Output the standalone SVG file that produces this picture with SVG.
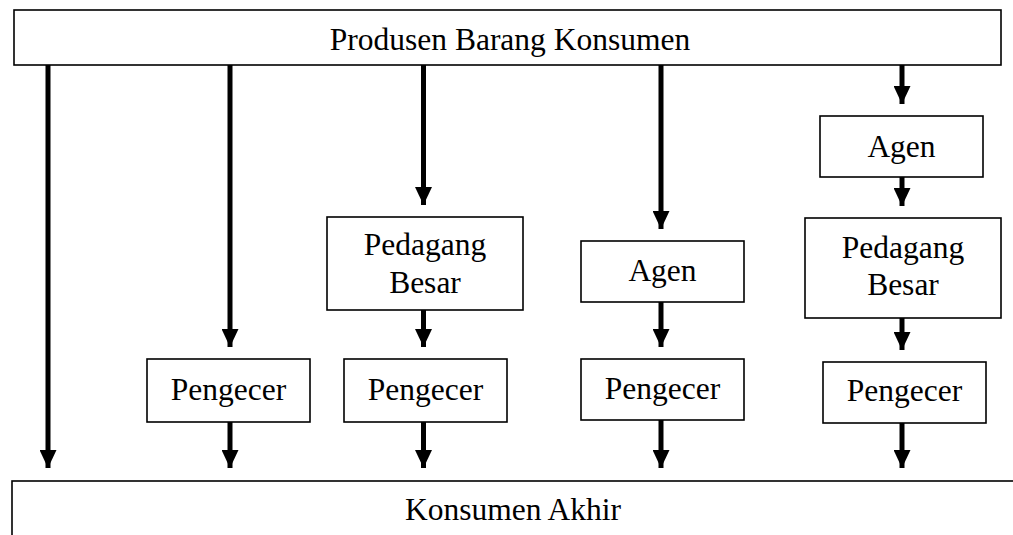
<svg xmlns="http://www.w3.org/2000/svg" width="1013" height="535" viewBox="0 0 1013 535">
<defs>
<style>
.box{fill:#fff;stroke:#000;stroke-width:1.6}
.t{font-family:"Liberation Serif","Times New Roman",serif;font-size:31.5px;fill:#000;text-anchor:middle}
.c{stroke:#000;stroke-width:5;fill:none}
</style>
<marker id="ah" markerUnits="userSpaceOnUse" markerWidth="18" markerHeight="17" refX="18" refY="8.5" orient="auto">
<path d="M0,0 L18,8.5 L0,17 z" fill="#000"/>
</marker>
</defs>
<rect width="1013" height="535" fill="#fff"/>
<g id="produsen"><rect class="box" x="14" y="10" width="987" height="55"/><text class="t" x="510" y="50">Produsen Barang Konsumen</text></g>
<g id="konsumen"><rect class="box" x="12" y="481" width="1010" height="70"/><text class="t" x="513" y="520">Konsumen Akhir</text></g>
<g id="pengecer1"><rect class="box" x="147" y="359" width="163" height="63"/><text class="t" x="228.5" y="400">Pengecer</text></g>
<g id="pedagang3"><rect class="box" x="327" y="217" width="196" height="93"/><text class="t" x="425" y="255">Pedagang</text><text class="t" x="425" y="293">Besar</text></g>
<g id="pengecer3"><rect class="box" x="344" y="359" width="163" height="63"/><text class="t" x="425.5" y="400">Pengecer</text></g>
<g id="agen4"><rect class="box" x="581" y="241" width="163" height="61"/><text class="t" x="662.5" y="281">Agen</text></g>
<g id="pengecer4"><rect class="box" x="581" y="359" width="163" height="61"/><text class="t" x="662.5" y="399">Pengecer</text></g>
<g id="agen5"><rect class="box" x="820" y="116" width="163" height="61"/><text class="t" x="901.5" y="157">Agen</text></g>
<g id="pedagang5"><rect class="box" x="805" y="218" width="196" height="100"/><text class="t" x="903" y="258">Pedagang</text><text class="t" x="903" y="295">Besar</text></g>
<g id="pengecer5"><rect class="box" x="823" y="362" width="163" height="61"/><text class="t" x="904.5" y="401">Pengecer</text></g>
<g id="connectors">
<line class="c" x1="48" y1="65" x2="48" y2="468" marker-end="url(#ah)"/>
<line class="c" x1="230" y1="65" x2="230" y2="347" marker-end="url(#ah)"/>
<line class="c" x1="230" y1="422" x2="230" y2="468" marker-end="url(#ah)"/>
<line class="c" x1="423.5" y1="65" x2="423.5" y2="205" marker-end="url(#ah)"/>
<line class="c" x1="423.5" y1="310" x2="423.5" y2="347" marker-end="url(#ah)"/>
<line class="c" x1="423.5" y1="422" x2="423.5" y2="468" marker-end="url(#ah)"/>
<line class="c" x1="661" y1="65" x2="661" y2="229" marker-end="url(#ah)"/>
<line class="c" x1="661" y1="302" x2="661" y2="347" marker-end="url(#ah)"/>
<line class="c" x1="661" y1="420" x2="661" y2="468" marker-end="url(#ah)"/>
<line class="c" x1="902" y1="65" x2="902" y2="104" marker-end="url(#ah)"/>
<line class="c" x1="902" y1="177" x2="902" y2="206" marker-end="url(#ah)"/>
<line class="c" x1="902" y1="318" x2="902" y2="350" marker-end="url(#ah)"/>
<line class="c" x1="902" y1="423" x2="902" y2="468" marker-end="url(#ah)"/>
</g>
</svg>
